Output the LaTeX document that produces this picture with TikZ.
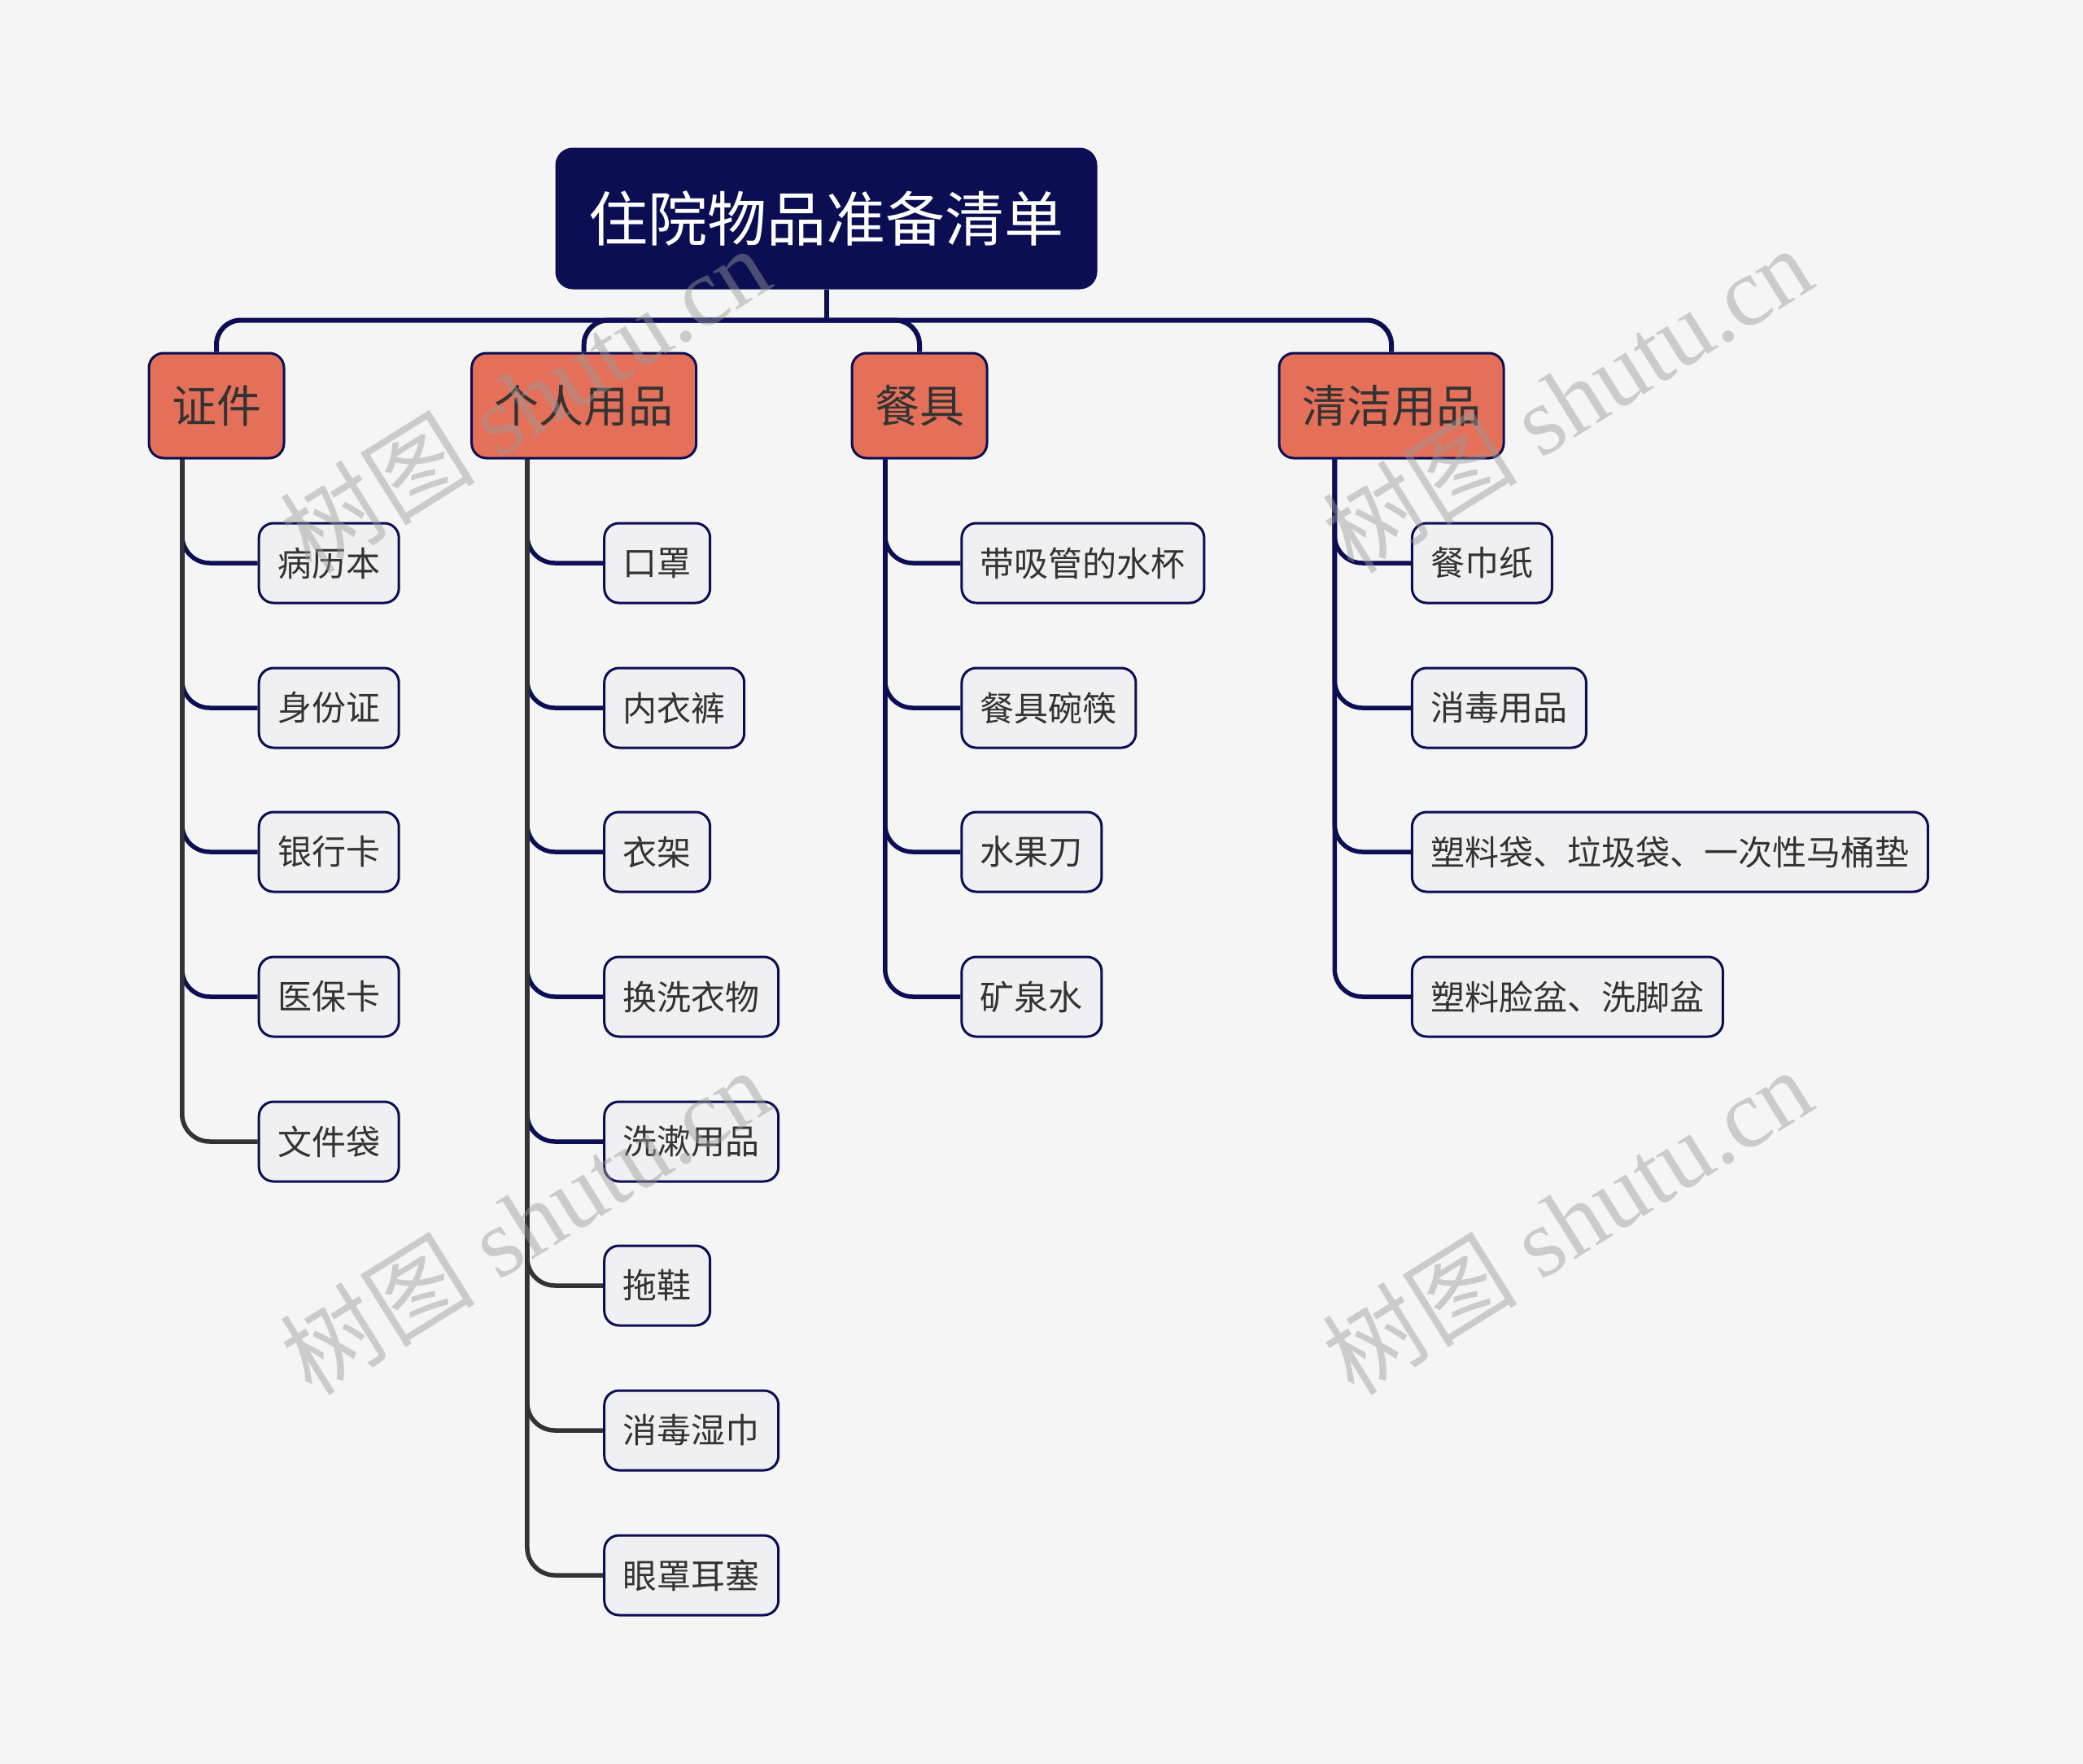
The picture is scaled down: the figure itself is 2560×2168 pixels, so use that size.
\documentclass[tikz,border=0pt]{standalone}
\usepackage{fontspec}
\newfontfamily\cjk{Noto Sans CJK SC}
\newfontfamily\wmlatin{Liberation Serif}
\usetikzlibrary{calc}
\definecolor{bg}{HTML}{F5F5F5}
\definecolor{navy}{HTML}{0B0E52}
\definecolor{coral}{HTML}{E5705A}
\definecolor{leaffill}{HTML}{F0F0F2}
\definecolor{txt}{HTML}{333333}
\definecolor{gline}{HTML}{333333}
\definecolor{wmcol}{HTML}{9A9A9A}
\pgfdeclarelayer{bgl}
\pgfdeclarelayer{lines}
\pgfsetlayers{bgl,lines,main}
\begin{document}
\begin{tikzpicture}[x=1pt,y=-1pt,
 rootbox/.style={draw=navy, fill=navy, line width=3pt, rounded corners=20pt, text=white,
   font=\cjk\fontsize{73}{80}\selectfont, minimum width=663pt, minimum height=171pt, inner sep=0pt},
 catbox/.style={draw=navy, fill=coral, line width=3pt, rounded corners=18pt, text=txt,
   font=\cjk\fontsize{55}{62}\selectfont, minimum height=129pt, inner xsep=28pt, inner ysep=0pt},
 leafbox/.style={draw=navy, fill=leaffill, line width=3pt, rounded corners=18pt, text=txt,
   font=\cjk\fontsize{42}{50}\selectfont, minimum height=98pt, inner xsep=23pt, inner ysep=0pt, anchor=west},
 busline/.style={draw=navy, line width=6pt, rounded corners=30pt},
 stemline/.style={draw=navy, line width=6pt},
 navyline/.style={draw=navy, line width=5.5pt, rounded corners=34pt},
 grayline/.style={draw=gline, line width=5.5pt, rounded corners=34pt},
 wm/.style={text=wmcol, text opacity=0.45, rotate=32, font=\wmlatin\fontsize{120}{130}\selectfont}
]
\begin{pgfonlayer}{bgl}
\fill[bg] (0,0) rectangle (2560,2168);
\end{pgfonlayer}
\useasboundingbox (0,0) rectangle (2560,2168);

% root and categories
\node[rootbox] (root) at (1015.5,268.5) {住院物品准备清单};
\node[catbox] (c1) at (266,498.5) {证件};
\node[catbox] (c2) at (717.7,498.5) {个人用品};
\node[catbox] (c3) at (1130,498.5) {餐具};
\node[catbox] (c4) at (1710,498.5) {清洁用品};

% leaves: 证件
\node[leafbox] (a1) at (316.7,692) {病历本};
\node[leafbox] (a2) at (316.7,870) {身份证};
\node[leafbox] (a3) at (316.7,1047) {银行卡};
\node[leafbox] (a4) at (316.7,1225) {医保卡};
\node[leafbox] (a5) at (316.7,1403) {文件袋};
% leaves: 个人用品
\node[leafbox] (b1) at (741.2,692) {口罩};
\node[leafbox] (b2) at (741.2,870) {内衣裤};
\node[leafbox] (b3) at (741.2,1047) {衣架};
\node[leafbox] (b4) at (741.2,1225) {换洗衣物};
\node[leafbox] (b5) at (741.2,1403) {洗漱用品};
\node[leafbox] (b6) at (741.2,1580) {拖鞋};
\node[leafbox] (b7) at (741.2,1758) {消毒湿巾};
\node[leafbox] (b8) at (741.2,1936) {眼罩耳塞};
% leaves: 餐具
\node[leafbox] (d1) at (1180.4,692) {带吸管的水杯};
\node[leafbox] (d2) at (1180.4,870) {餐具碗筷};
\node[leafbox] (d3) at (1180.4,1047) {水果刀};
\node[leafbox] (d4) at (1180.4,1225) {矿泉水};
% leaves: 清洁用品
\node[leafbox] (e1) at (1733.9,692) {餐巾纸};
\node[leafbox] (e2) at (1733.9,870) {消毒用品};
\node[leafbox] (e3) at (1733.9,1047) {塑料袋、垃圾袋、一次性马桶垫};
\node[leafbox] (e4) at (1733.9,1225) {塑料脸盆、洗脚盆};

\begin{pgfonlayer}{lines}
% root to categories
\coordinate (busj) at (1015.5,393.5);
\draw[stemline] (root.south) -- (busj);
\draw[busline] (busj) -| (c1.north);
\draw[busline] (busj) -| (c2.north);
\draw[busline] (busj) -| (c3.north);
\draw[busline] (busj) -| (c4.north);
% trunk points
\coordinate (t1) at ($(c1.south west)!0.25!(c1.south east)$);
\coordinate (t2) at ($(c2.south west)!0.25!(c2.south east)$);
\coordinate (t3) at ($(c3.south west)!0.25!(c3.south east)$);
\coordinate (t4) at ($(c4.south west)!0.25!(c4.south east)$);
% navy branches
\draw[navyline] (t1) |- (a1.west);
\draw[navyline] (t1) |- (a2.west);
\draw[navyline] (t1) |- (a3.west);
\draw[navyline] (t1) |- (a4.west);
\draw[navyline] (t2) |- (b1.west);
\draw[navyline] (t2) |- (b2.west);
\draw[navyline] (t2) |- (b3.west);
\draw[navyline] (t2) |- (b4.west);
\draw[navyline] (t2) |- (b5.west);
\draw[navyline] (t3) |- (d1.west);
\draw[navyline] (t3) |- (d2.west);
\draw[navyline] (t3) |- (d3.west);
\draw[navyline] (t3) |- (d4.west);
\draw[navyline] (t4) |- (e1.west);
\draw[navyline] (t4) |- (e2.west);
\draw[navyline] (t4) |- (e3.west);
\draw[navyline] (t4) |- (e4.west);
% gray branches
\draw[grayline] (t1) |- (a5.west);
\draw[grayline] (t2) |- (b6.west);
\draw[grayline] (t2) |- (b7.west);
\draw[grayline] (t2) |- (b8.west);
\end{pgfonlayer}

% watermarks
\node[wm] (wm1) at (645,490) {{\cjk 树图} shutu.cn};
\node[wm] (wm2) at (1926,490) {{\cjk 树图} shutu.cn};
\node[wm] (wm3) at (645,1500) {{\cjk 树图} shutu.cn};
\node[wm] (wm4) at (1926,1500) {{\cjk 树图} shutu.cn};
\end{tikzpicture}
\end{document}
